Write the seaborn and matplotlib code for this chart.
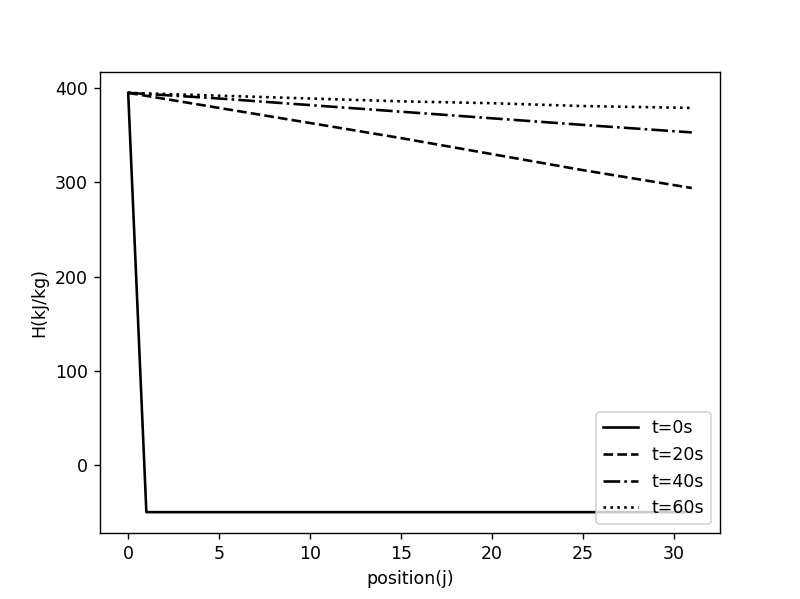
import matplotlib
matplotlib.use("Agg")
import matplotlib.pyplot as plt
import seaborn as sns

# enthalpy profiles along the tube
pos_t0 = [0, 1, 31]
h_t0 = [395, -50, -50]

pos = [0, 5, 10, 15, 20, 25, 31]
h_t20 = [395, 379, 363, 347, 330, 313, 294]
h_t40 = [395, 389, 382, 375, 368, 361, 353]
h_t60 = [395, 392, 389, 386, 384, 381, 379]

fig, ax = plt.subplots(figsize=(6.4, 4.792), dpi=125)

sns.lineplot(x=pos_t0, y=h_t0, ax=ax, color="black", linestyle="-", label="t=0s")
sns.lineplot(x=pos, y=h_t20, ax=ax, color="black", linestyle="--", label="t=20s")
sns.lineplot(x=pos, y=h_t40, ax=ax, color="black", linestyle="-.", label="t=40s")
sns.lineplot(x=pos, y=h_t60, ax=ax, color="black", linestyle=":", label="t=60s")

ax.set_xlabel("position(j)")
ax.set_ylabel("H(kJ/kg)")
ax.legend(loc="lower right")

fig.savefig("out.png")
plt.close(fig)
